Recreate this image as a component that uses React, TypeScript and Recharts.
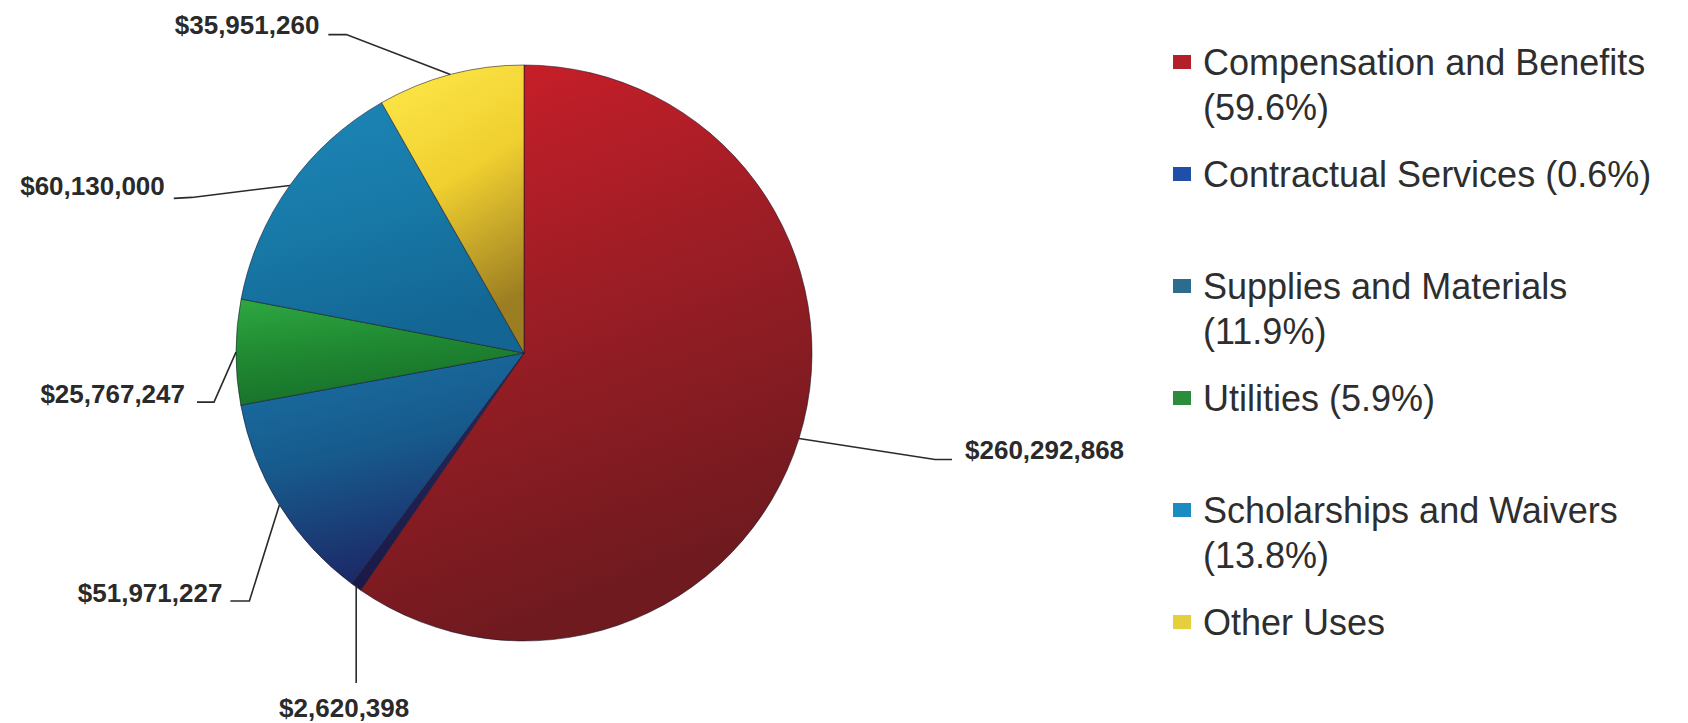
import { Cell, Legend, Pie, PieChart } from "recharts";

const categories = [
  "Compensation and Benefits",
  "Contractual Services",
  "Supplies and Materials",
  "Utilities",
  "Scholarships and Waivers",
  "Other Uses",
];
const amounts = [260292868, 2620398, 51971227, 25767247, 60130000, 35951260];
const legendPercents = ["59.6%", "0.6%", "11.9%", "5.9%", "13.8%", null];
const sliceLabels = ["$260,292,868", "$2,620,398", "$51,971,227", "$25,767,247", "$60,130,000", "$35,951,260"];

const GRADIENTS = [
  ["#d01f2a", "#9c1d25", "#6e1a1f"],
  ["#2c2c74", "#222458", "#181844"],
  ["#1a72a6", "#175a8c", "#1c2a68"],
  ["#2ea842", "#208a32", "#17702a"],
  ["#1d86b8", "#187aa8", "#136694"],
  ["#ffe94a", "#f0cf30", "#9c7e22"],
];
const LEGEND_SWATCH = ["#b3202a", "#1f4fa8", "#2c6c8e", "#2b8c3c", "#1a8cc2", "#e6cf3e"];

// leader line offsets from the slice's outer edge point: elbow, line end, text anchor
const LABEL_LAYOUT = [
  { elbow: [136, 21], end: [153, 21], text: [166, 11], anchor: "start" },
  { elbow: [0, 96], end: [0, 96], text: [-12, 121], anchor: "middle" },
  { elbow: [-30, 96], end: [-49, 96], text: [-57, 88], anchor: "end" },
  { elbow: [-22, 50], end: [-39, 50], text: [-51, 42], anchor: "end" },
  { elbow: [-98, 12], end: [-116, 13], text: [-125, 1], anchor: "end" },
  { elbow: [-104, -40], end: [-122, -40], text: [-131, -50], anchor: "end" },
] as const;

const data = categories.map((name, i) => ({ name, value: amounts[i] }));
const RAD = Math.PI / 180;

function renderLabel(props: any) {
  const { cx, cy, midAngle, outerRadius, index } = props;
  const x0 = cx + outerRadius * Math.cos(-midAngle * RAD);
  const y0 = cy + outerRadius * Math.sin(-midAngle * RAD);
  const l = LABEL_LAYOUT[index];
  const pts = [[x0, y0], [x0 + l.elbow[0], y0 + l.elbow[1]], [x0 + l.end[0], y0 + l.end[1]]];
  return (
    <g key={`lbl-${index}`}>
      <polyline points={pts.map(p => p.join(",")).join(" ")} fill="none" stroke="#2a2a2a" strokeWidth={1.6} />
      <text
        x={x0 + l.text[0]}
        y={y0 + l.text[1]}
        textAnchor={l.anchor}
        dominantBaseline="central"
        fill="#2a2a2a"
        fontSize={26}
        fontWeight="bold"
        fontFamily="'Liberation Sans', Arial, sans-serif"
      >
        {sliceLabels[index]}
      </text>
    </g>
  );
}

function LegendBox() {
  return (
    <div style={{ fontFamily: "'Liberation Sans', Arial, sans-serif", fontSize: 36, lineHeight: "45px", color: "#2e2e2e" }}>
      {categories.map((name, i) => (
        <div key={name} style={{ position: "relative", height: 112, paddingLeft: 30, width: 480 }}>
          <span style={{ position: "absolute", left: 0, top: 15, width: 18, height: 14, background: LEGEND_SWATCH[i] }} />
          {legendPercents[i] ? `${name} (${legendPercents[i]})` : name}
        </div>
      ))}
    </div>
  );
}

export default function App() {
  return (
    <div style={{ position: "absolute", left: 0, top: 0, width: 1688, height: 723, background: "#fff" }}>
      <PieChart width={1688} height={723} margin={{ top: 0, right: 0, bottom: 0, left: 0 }}>
        <defs>
          {GRADIENTS.map((g, i) => (
            <linearGradient key={i} id={`slice${i}`} x1="0" y1="0" x2="0.3" y2="1">
              <stop offset="0%" stopColor={g[0]} />
              <stop offset="50%" stopColor={g[1]} />
              <stop offset="100%" stopColor={g[2]} />
            </linearGradient>
          ))}
        </defs>
        <Pie
          data={data}
          dataKey="value"
          nameKey="name"
          cx={524}
          cy={353}
          outerRadius={288}
          startAngle={90}
          endAngle={-270}
          stroke="rgba(20,20,40,0.55)"
          strokeWidth={1}
          label={renderLabel}
          labelLine={false}
          isAnimationActive={false}
        >
          {data.map((d, i) => <Cell key={d.name} fill={`url(#slice${i})`} />)}
        </Pie>
        <Legend
          layout="vertical"
          align="right"
          verticalAlign="top"
          content={() => <LegendBox />}
          wrapperStyle={{ left: 1173, top: 40, width: 510 }}
        />
      </PieChart>
    </div>
  );
}
